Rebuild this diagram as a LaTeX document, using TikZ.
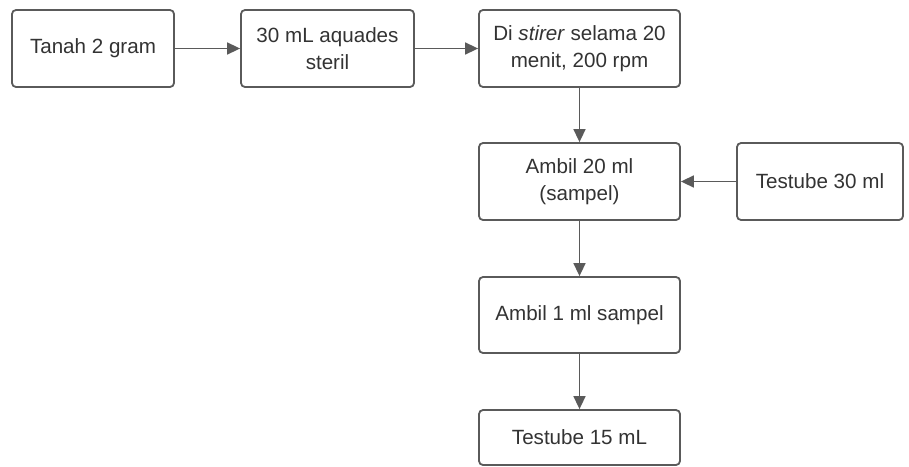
\documentclass[tikz,border=0pt]{standalone}
\usepackage{fontspec}
\setmainfont{Liberation Sans}
\usetikzlibrary{arrows.meta}
\definecolor{edge}{HTML}{5A5A5A}
\definecolor{txt}{HTML}{333333}
\tikzset{
  flowbox/.style={draw=edge, line width=1.8pt, rounded corners=4pt, fill=white,
    minimum height=77pt, align=center, text=txt,
    font=\fontsize{20.6}{27}\selectfont, inner sep=2pt},
  flowarrow/.style={draw=edge, line width=1.6pt,
    -{Triangle[length=13pt,width=12pt]}}
}
\begin{document}
\begin{tikzpicture}[x=1pt,y=-1pt]
\useasboundingbox (0,0) rectangle (909,466);
\node[flowbox, minimum width=162pt] (a) at (93,48.5) {Tanah 2 gram};
\node[flowbox, minimum width=173pt] (b) at (327.5,48.5) {30 mL aquades\\steril};
\node[flowbox, minimum width=201pt] (c) at (579.5,48.5) {Di \textit{stirer} selama 20\\menit, 200 rpm};
\node[flowbox, minimum width=201pt] (d) at (579.5,181.5) {Ambil 20 ml\\(sampel)};
\node[flowbox, minimum width=166pt] (e) at (820,181.5) {Testube 30 ml};
\node[flowbox, minimum width=201pt, minimum height=76pt] (f) at (579.5,315) {Ambil 1 ml sampel};
\node[flowbox, minimum width=201pt, minimum height=55pt] (g) at (579.5,437.5) {Testube 15 mL};
\draw[flowarrow] (a) -- (b);
\draw[flowarrow] (b) -- (c);
\draw[flowarrow] (c) -- (d);
\draw[flowarrow] (e) -- (d);
\draw[flowarrow] (d) -- (f);
\draw[flowarrow] (f) -- (g);
\end{tikzpicture}
\end{document}
